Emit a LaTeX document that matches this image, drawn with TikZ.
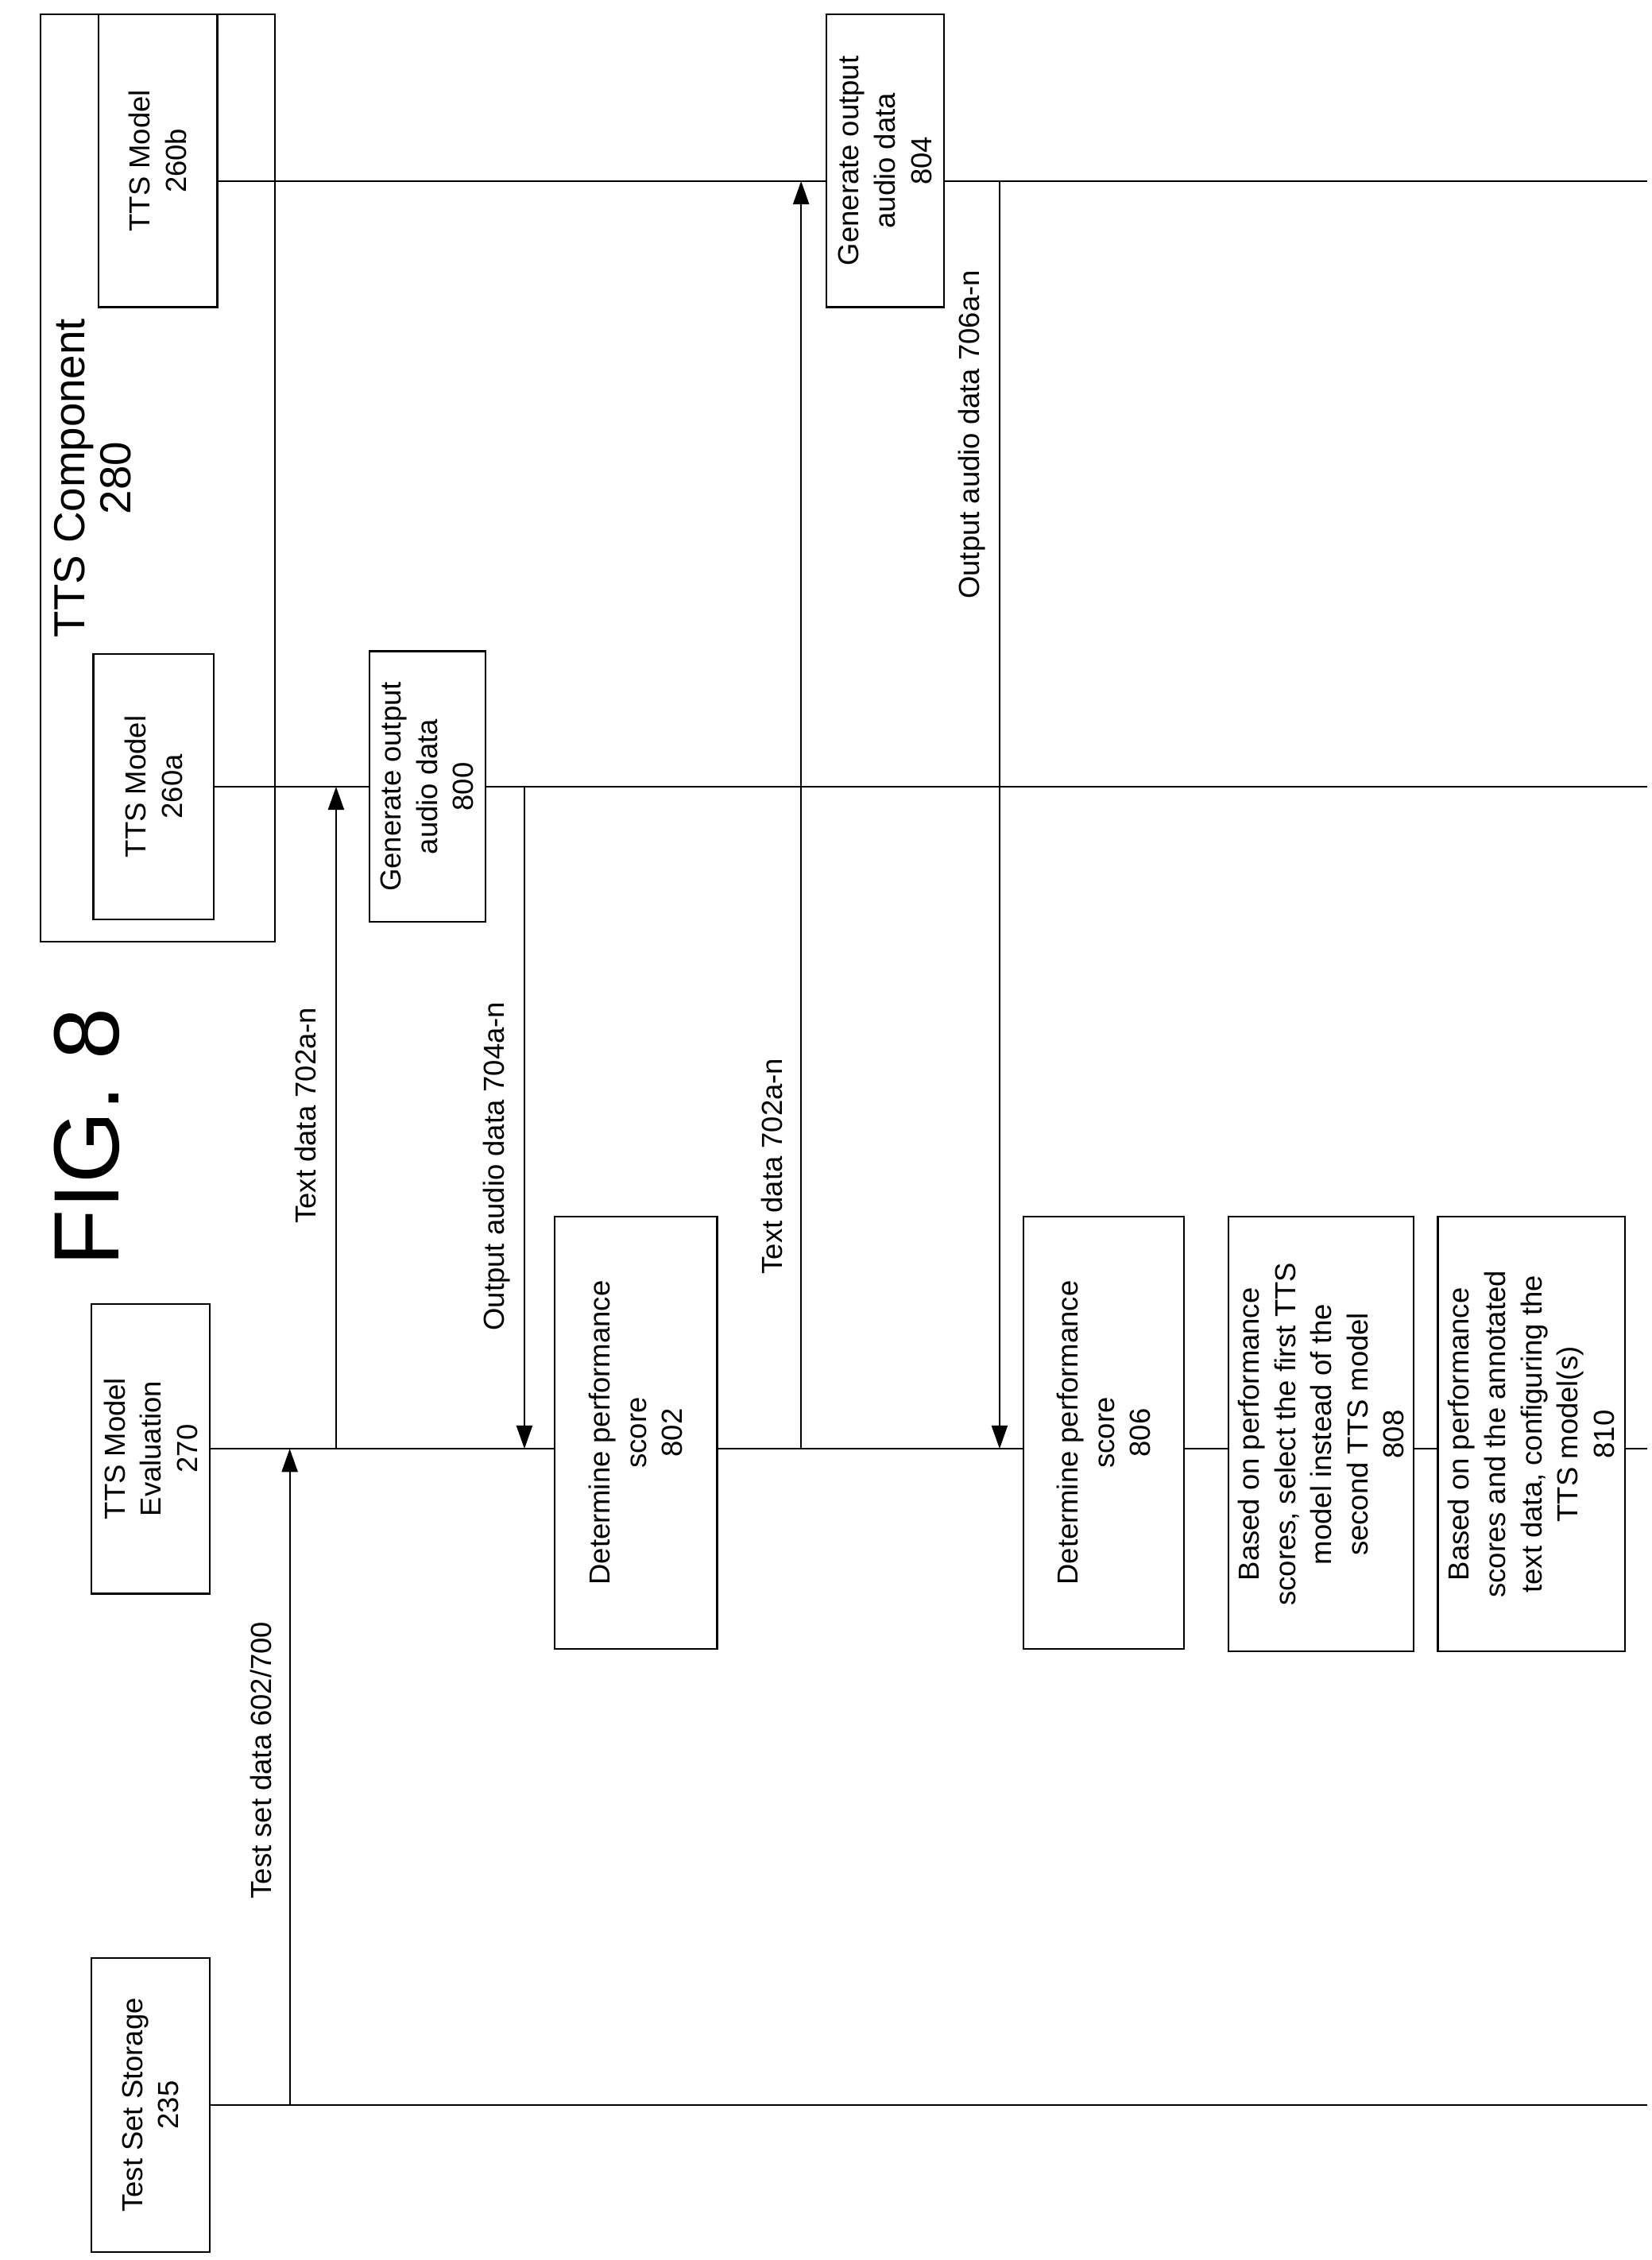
\documentclass[tikz,border=0pt]{standalone}
\usepackage{fontspec}
\setmainfont{Liberation Sans}
\usetikzlibrary{arrows.meta}

\tikzset{
  box/.style={draw, line width=1.2pt, rotate=90, align=center, inner sep=2pt,
    font=\fontsize{20}{25}\selectfont},
  life/.style={line width=1.2pt},
  msg/.style={line width=1.2pt, -{Triangle[length=16pt,width=11pt]}},
  lbl/.style={rotate=90, font=\fontsize{20}{24}\selectfont}
}

\begin{document}
\begin{tikzpicture}[x=1pt,y=-1pt]
\useasboundingbox (0,0) rectangle (1140,1560);

% participants
\node[box, minimum width=203pt, minimum height=82pt] (storage) at (104,1453) {Test Set Storage\\235};
\node[box, minimum width=200pt, minimum height=82pt] (eval) at (104,1000) {TTS Model\\Evaluation\\270};
\node[draw, line width=1.2pt, minimum width=162pt, minimum height=640pt, inner sep=0pt] (comp) at (109,330) {};
\node[lbl, font=\fontsize{30}{32}\selectfont, align=center] (comptitle) at (64,330) {TTS Component\\280};
\node[box, minimum width=183pt, minimum height=83pt] (ma) at (106,543) {TTS Model\\260a};
\node[box, minimum width=202pt, minimum height=82pt] (mb) at (109,111) {TTS Model\\260b};
\node[lbl, font=\fontsize{64}{70}\selectfont] (fig) at (60,785) {FIG. 8};

% lifelines
\coordinate (storageend) at (1137,1453);
\coordinate (evalend) at (1137,1000);
\coordinate (maend) at (1137,543);
\coordinate (mbend) at (1137,125);
\draw[life] (storage.south) -- (storageend);
\draw[life] (eval.south) -- (evalend);
\draw[life] (ma.south |- 0,543) -- (maend);
\draw[life] (mb.south |- 0,125) -- (mbend);

% steps
\node[box, fill=white, minimum width=187pt, minimum height=80pt] (gen800) at (295,543) {Generate output\\audio data\\800};
\node[box, fill=white, minimum width=298pt, minimum height=112pt] (det802) at (439,989) {Determine performance\\score\\802};
\node[box, fill=white, minimum width=202pt, minimum height=81pt] (gen804) at (611,111) {Generate output\\audio data\\804};
\node[box, fill=white, minimum width=298pt, minimum height=111pt] (det806) at (762,989) {Determine performance\\score\\806};
\node[box, fill=white, minimum width=300pt, minimum height=128pt] (sel808) at (912,990) {Based on performance\\scores, select the first TTS\\model instead of the\\second TTS model\\808};
\node[box, fill=white, minimum width=300pt, minimum height=129pt] (cfg810) at (1057,990) {Based on performance\\scores and the annotated\\text data, configuring the\\TTS model(s)\\810};

% messages
\coordinate (a1) at (200,1453); \coordinate (b1) at (200,1000);
\coordinate (a2) at (232,1000); \coordinate (b2) at (232,543);
\coordinate (a3) at (362,543);  \coordinate (b3) at (362,1000);
\coordinate (a4) at (553,1000); \coordinate (b4) at (553,125);
\coordinate (a5) at (690,125);  \coordinate (b5) at (690,1000);
\draw[msg] (a1) -- (b1);
\draw[msg] (a2) -- (b2);
\draw[msg] (a3) -- (b3);
\draw[msg] (a4) -- (b4);
\draw[msg] (a5) -- (b5);

\node[lbl] (l1) at (180,1215) {Test set data 602/700};
\node[lbl] (l2) at (211,770) {Text data 702a-n};
\node[lbl] (l3) at (343,805) {Output audio data 704a-n};
\node[lbl] (l4) at (533,805) {Text data 702a-n};
\node[lbl] (l5) at (671,300) {Output audio data 706a-n};

\end{tikzpicture}
\end{document}
